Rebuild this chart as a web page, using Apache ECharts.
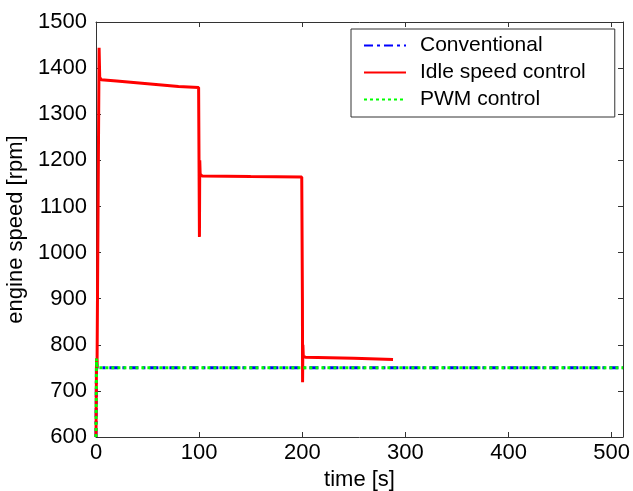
<!DOCTYPE html>
<html><head><meta charset="utf-8">
<script src="https://cdn.jsdelivr.net/npm/echarts@6/dist/echarts.min.js"></script>
<style>html,body{margin:0;padding:0;background:#fff}#c{width:633px;height:491px}</style>
</head><body><div id="c"></div>
<script>
// ---- data ----
const seriesNames = ['Conventional', 'Idle speed control', 'PWM control'];

const timeConventional = [0, 0.5, 1, 511];
const rpmConventional  = [600, 770, 750, 750];

const timeIdle = [0, 0.5, 1, 2.5, 3, 3.6, 5, 20, 50, 80, 99.5, 100, 100.3, 100.6, 101, 103, 150, 199.5, 200, 200.15, 200.3, 200.6, 201, 203, 250, 288];
const rpmIdle  = [600, 770, 750, 750, 1444, 1380, 1375, 1372, 1366, 1360, 1358, 1356, 1034, 1200, 1170, 1166, 1165, 1164, 1160, 900, 719, 800, 775, 773, 771, 768];

const timePWM = [0, 0.5, 1, 511];
const rpmPWM  = [600, 770, 750, 750];

const xMin = 0, xMax = 511, xStep = 100;
const yMin = 600, yMax = 1500, yStep = 100;

const zip = (a, b) => a.map((v, i) => [v, b[i]]);

const FONT = '"Liberation Sans", Arial, sans-serif';
const AX = '#333';

const chart = echarts.init(document.getElementById('c'), null, {renderer: 'canvas'});
const baseAxis = {
  type: 'value',
  axisLine: {show: true, onZero: false, lineStyle: {color: AX, width: 1}},
  axisTick: {show: true, inside: true, length: 5, lineStyle: {color: AX, width: 1}},
  splitLine: {show: false}
};
chart.setOption({
  backgroundColor: '#fff',
  animation: false,
  grid: {left: 96, right: 10, top: 22, bottom: 54, show: false, containLabel: false, outerBoundsMode: 'none'},
  xAxis: [
    Object.assign({}, baseAxis, {
      position: 'bottom', min: xMin, max: xMax, interval: xStep,
      name: 'time [s]', nameLocation: 'middle', nameGap: 32,
      nameTextStyle: {fontFamily: FONT, fontSize: 22, color: '#000'},
      axisLabel: {fontFamily: FONT, fontSize: 22, color: '#000', margin: 5,
        formatter: v => (v % xStep === 0 ? String(v) : '')}
    }),
    Object.assign({}, baseAxis, {
      position: 'top', min: xMin, max: xMax, interval: xStep,
      axisLabel: {show: false}
    })
  ],
  yAxis: [
    Object.assign({}, baseAxis, {
      position: 'left', min: yMin, max: yMax, interval: yStep,
      name: 'engine speed [rpm]', nameLocation: 'middle', nameGap: 59,
      nameTextStyle: {fontFamily: FONT, fontSize: 22, color: '#000'},
      axisLabel: {fontFamily: FONT, fontSize: 22, color: '#000', margin: 9,
        formatter: v => String(v)}
    }),
    Object.assign({}, baseAxis, {
      position: 'right', min: yMin, max: yMax, interval: yStep,
      axisLabel: {show: false}
    })
  ],
  legend: {
    orient: 'vertical', left: 351, top: 29,
    data: seriesNames,
    selectedMode: false,
    backgroundColor: '#fff',
    borderColor: AX, borderWidth: 1,
    padding: [6, 29, 7, 12],
    itemWidth: 42, itemHeight: 14, itemGap: 6,
    itemStyle: {opacity: 0},
    textStyle: {fontFamily: FONT, fontSize: 21, color: '#000', lineHeight: 21, padding: [0, 0, 0, 9]}
  },
  series: [
    {
      name: seriesNames[0], type: 'line', xAxisIndex: 0, yAxisIndex: 0,
      data: zip(timeConventional, rpmConventional),
      symbol: 'none', z: 2,
      lineStyle: {color: '#0000ff', width: 3, type: [9, 4, 3, 4]},
      itemStyle: {color: '#0000ff'}
    },
    {
      name: seriesNames[1], type: 'line', xAxisIndex: 0, yAxisIndex: 0,
      data: zip(timeIdle, rpmIdle),
      symbol: 'none', z: 3,
      lineStyle: {color: '#ff0000', width: 3, type: 'solid'},
      itemStyle: {color: '#ff0000'}
    },
    {
      name: seriesNames[2], type: 'line', xAxisIndex: 0, yAxisIndex: 0,
      data: zip(timePWM, rpmPWM),
      symbol: 'none', z: 4,
      lineStyle: {color: '#00ff00', width: 3, type: [3, 3]},
      itemStyle: {color: '#00ff00'}
    }
  ]
});
</script>
</body></html>
